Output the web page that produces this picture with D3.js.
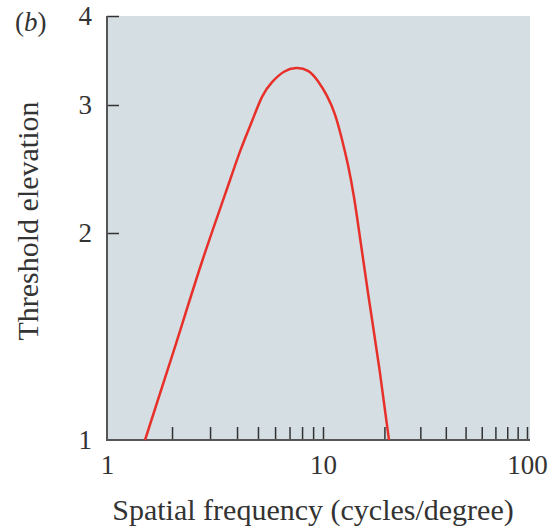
<!DOCTYPE html>
<html>
<head>
<meta charset="utf-8">
<script src="https://cdn.jsdelivr.net/npm/d3@7"></script>
<style>
  body { margin: 0; background: #fff; }
  text { font-family: "Liberation Serif", "DejaVu Serif", serif; fill: #333; }
</style>
</head>
<body>
<div id="chart"></div>
<script>
// Threshold elevation curve
const freq = [1.5, 2.04, 2.75, 3.52, 4.13, 4.69, 5.22, 5.81, 6.6, 7.5, 8.52, 9.48,
              10.46, 11.45, 12.39, 13.26, 14.19, 15.18, 16.81, 18.82, 20.6, 21.07];
const elevation = [1.0, 1.35, 1.815, 2.26, 2.59, 2.85, 3.08, 3.23, 3.34, 3.38, 3.35, 3.24,
                   3.09, 2.91, 2.69, 2.48, 2.24, 1.97, 1.6, 1.28, 1.05, 1.0];

// tick values
const xTicks = [1, 2, 3, 4, 5, 6, 7, 8, 9, 10, 20, 30, 40, 50, 60, 70, 80, 90, 100];
const xLabels = [1, 10, 100];
const yTicks = [1, 2, 3, 4];

const width = 550, height = 531;

const svg = d3.select('#chart')
  .append('svg')
    .attr('width', width)
    .attr('height', height);

// log scales (the printed axes are slightly uneven, so piecewise)
const x = d3.scaleLog()
  .domain([1, 10, 100])
  .range([107, 323, 527]);

const y = d3.scaleLog()
  .domain([1, 2, 3, 4])
  .range([440, 233, 105, 16]);

// plot background
svg.append('rect')
  .attr('x', x(1))
  .attr('y', y(4))
  .attr('width', 530 - x(1))
  .attr('height', y(1) - y(4))
  .attr('fill', '#d4dee3');

// x axis
const xAxis = svg.append('g')
  .attr('transform', 'translate(0,' + y(1) + ')')
  .call(d3.axisBottom(x)
    .tickValues(xTicks)
    .tickSize(-13)
    .tickPadding(15)
    .tickFormat(d => xLabels.includes(d) ? d : ''));

xAxis.select('.domain').remove();
xAxis.selectAll('.tick line')
  .attr('stroke', '#333')
  .attr('stroke-width', 1.5)
  .filter(d => d == 1).remove();
xAxis.selectAll('.tick text')
  .attr('font-size', 27)
  .attr('fill', '#333');

// y axis
const yAxis = svg.append('g')
  .attr('transform', 'translate(' + x(1) + ',0)')
  .call(d3.axisLeft(y)
    .tickValues(yTicks)
    .tickSize(-12)
    .tickPadding(15)
    .tickFormat(d3.format('d')));

yAxis.select('.domain').remove();
yAxis.selectAll('.tick line')
  .attr('stroke', '#333')
  .attr('stroke-width', 1.5)
  .filter(d => d == 1).remove();
yAxis.selectAll('.tick text')
  .attr('font-size', 27)
  .attr('fill', '#333');

// axis lines
svg.append('path')
  .attr('d', 'M' + x(1) + ',' + y(4) + 'V' + y(1) + 'H530')
  .attr('fill', 'none')
  .attr('stroke', '#555')
  .attr('stroke-width', 2);

// the curve
const data = freq.map((f, i) => ({f: f, e: elevation[i]}));
svg.append('path')
  .datum(data)
  .attr('fill', 'none')
  .attr('stroke', '#e8302a')
  .attr('stroke-width', 2.5)
  .attr('d', d3.line()
    .x(d => x(d.f))
    .y(d => y(d.e))
    .curve(d3.curveNatural));

// titles
svg.append('text')
  .attr('x', 313)
  .attr('y', 520)
  .attr('text-anchor', 'middle')
  .attr('font-size', 30)
  .text('Spatial frequency (cycles/degree)');

svg.append('text')
  .attr('transform', 'translate(38,221) rotate(-90)')
  .attr('text-anchor', 'middle')
  .attr('font-size', 30)
  .text('Threshold elevation');

svg.append('text')
  .attr('x', 15)
  .attr('y', 31)
  .attr('font-size', 27)
  .html('(<tspan font-style="italic">b</tspan>)');
</script>
</body>
</html>
